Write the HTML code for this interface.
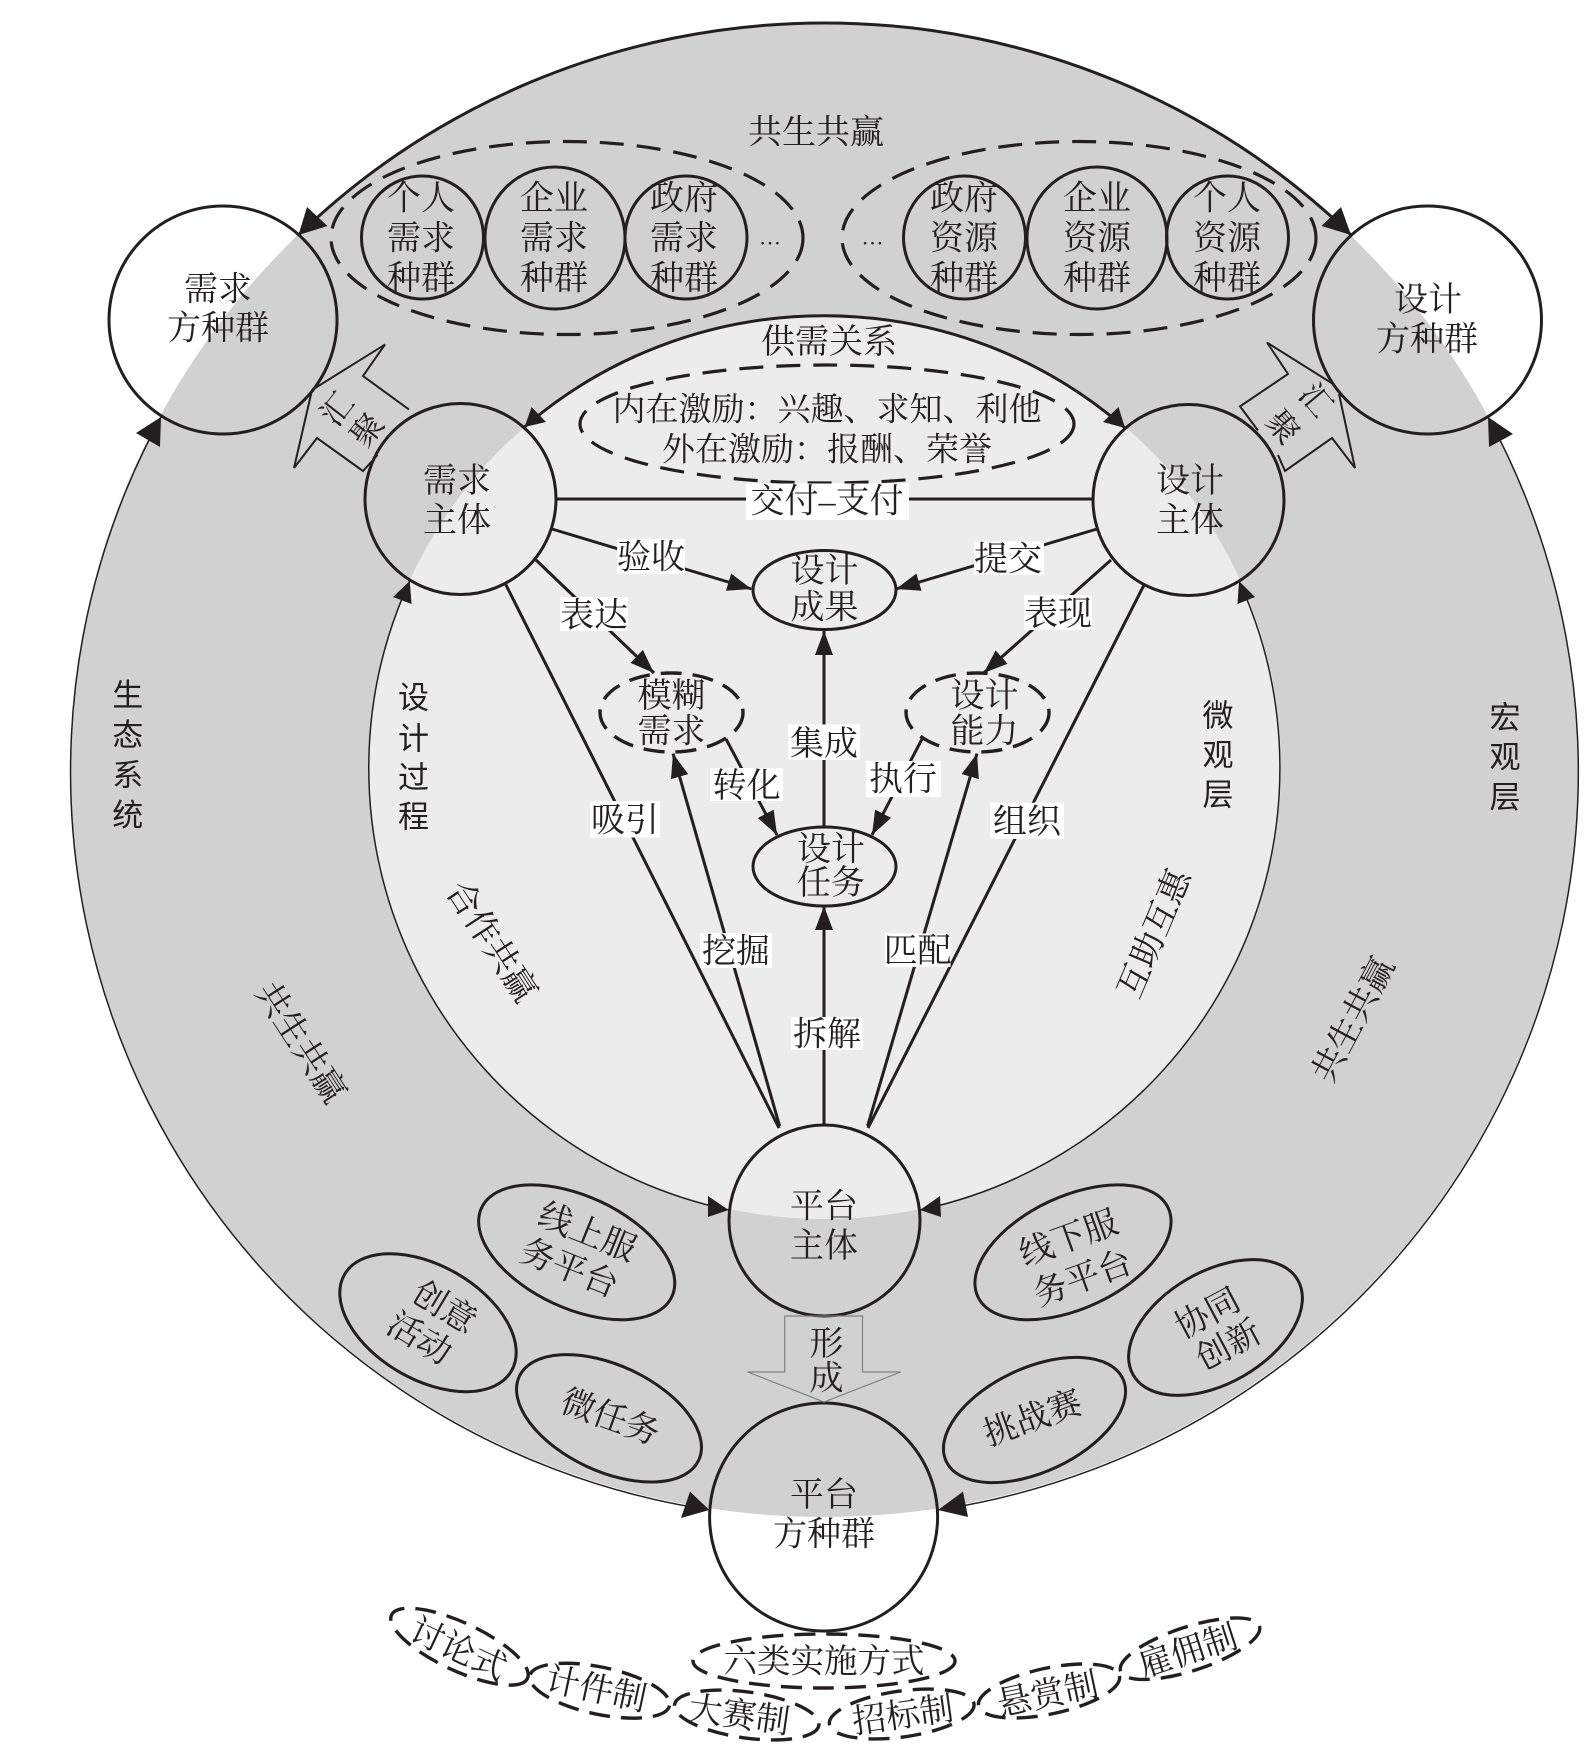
<!DOCTYPE html>
<html><head><meta charset="utf-8"><style>
html,body{margin:0;padding:0;background:#fff}
svg{display:block}
text{font-family:"Liberation Serif","Noto Serif CJK SC","Noto Sans CJK SC",serif;font-size:34px;fill:#231f20;text-anchor:middle;dominant-baseline:central}
.h{font-family:"Liberation Sans","Noto Sans CJK SC",sans-serif;font-size:31px}
.n{fill:none;stroke:#231f20;stroke-width:3}
.d{fill:none;stroke:#231f20;stroke-width:3.2;stroke-dasharray:24 13}
.d2{fill:none;stroke:#231f20;stroke-width:3.4;stroke-dasharray:21 11}
.l{stroke:#231f20;stroke-width:3;fill:none}
.a{marker-end:url(#m)}
.w{fill:#fff}
.k{fill:#231f20}
</style></head><body>
<svg xmlns="http://www.w3.org/2000/svg" width="1596" height="1751" viewBox="0 0 1596 1751">
<defs><marker id="m" markerUnits="userSpaceOnUse" markerWidth="24" markerHeight="20" refX="24" refY="10" orient="auto"><path d="M0 1L24 10L0 19z" fill="#231f20"/></marker></defs>
<rect width="1596" height="1751" fill="#fff"/>
<ellipse cx="824" cy="770" rx="754" ry="747" fill="#d1d1d1"/>
<ellipse cx="825" cy="767" rx="456" ry="452" fill="#ececec"/>

<!-- outer arcs -->
<path class="l" d="M298.5 235A754 747 0 0 1 1351 235"/>
<path d="M161 417A754 747 0 0 0 709.4 1510M938 1510A754 747 0 0 0 1488 417" fill="none" stroke="#231f20" stroke-width="1.5"/>
<polygon class="k" points="298.5,235 307,207 327.5,226"/>
<polygon class="k" points="1351,235 1341,207 1321.5,226"/>
<polygon class="k" points="161,417 136,433 160,447"/>
<polygon class="k" points="1488,417 1513,434 1489,447"/>
<polygon class="k" points="709.4,1510 690,1491.6 681,1518"/>
<polygon class="k" points="938,1510 963,1491.6 968,1517"/>

<!-- inner arcs -->
<path class="l" d="M524.5 427A456 452 0 0 1 1125 428"/>
<path d="M409.7 581A456 452 0 0 0 728.6 1210M920 1210A456 452 0 0 0 1239 581" fill="none" stroke="#231f20" stroke-width="1.5"/>
<polygon class="k" points="524.5,427 531.6,407 546,422"/>
<polygon class="k" points="1125,428 1118.5,407 1103,422"/>
<polygon class="k" points="409.7,581 393,597 411.6,604"/>
<polygon class="k" points="1239,581 1255,597 1237.5,604"/>
<polygon class="k" points="728.6,1210 708,1196 708,1217"/>
<polygon class="k" points="920,1210 940,1196 941,1217"/>

<!-- converge arrows -->
<path fill="none" stroke="#231f20" stroke-width="2" d="M312 390L385 344.5L363 376L409 409.5M377.5 455L363 471L317 438L294 468L312 390"/>
<path fill="none" stroke="#231f20" stroke-width="2" d="M1334 384.6L1267 342.5L1288 374L1240 406.4L1258 430.5M1278 455L1285 471L1332 438L1355 468L1339 394"/>
<text style="font-size:32px" transform="translate(337 409) rotate(-52)">汇</text>
<text style="font-size:32px" transform="translate(367 430) rotate(-52)">聚</text>
<text style="font-size:32px" transform="translate(1316 400) rotate(50)">汇</text>
<text style="font-size:32px" transform="translate(1283 427) rotate(50)">聚</text>

<!-- top dashed groups -->
<ellipse class="d" cx="567" cy="238" rx="236" ry="96.5"/>
<ellipse class="d" cx="1079" cy="238" rx="237" ry="96.5"/>
<ellipse class="n" cx="422.5" cy="237.5" rx="61" ry="61.5"/>
<ellipse class="n" cx="555" cy="238" rx="70" ry="71"/>
<ellipse class="n" cx="686" cy="237.5" rx="61" ry="61.5"/>
<ellipse class="n" cx="964.5" cy="237.5" rx="61" ry="61.5"/>
<ellipse class="n" cx="1097" cy="238" rx="70" ry="71"/>
<ellipse class="n" cx="1227.5" cy="237.5" rx="61" ry="61.5"/>
<text x="816" y="133">共生共赢</text>
<text x="421" y="199">个人</text><text x="421" y="239">需求</text><text x="421" y="279">种群</text>
<text x="554" y="199">企业</text><text x="554" y="239">需求</text><text x="554" y="279">种群</text>
<text x="684" y="199">政府</text><text x="684" y="239">需求</text><text x="684" y="279">种群</text>
<text style="font-size:22px" x="770" y="237">…</text><text style="font-size:22px" x="872.5" y="237">…</text>
<text x="964" y="199">政府</text><text x="964" y="239">资源</text><text x="964" y="279">种群</text>
<text x="1097" y="199">企业</text><text x="1097" y="239">资源</text><text x="1097" y="279">种群</text>
<text x="1227" y="199">个人</text><text x="1227" y="239">资源</text><text x="1227" y="279">种群</text>

<!-- incentive -->
<text x="829" y="342.5">供需关系</text>
<ellipse class="d" cx="827" cy="424" rx="247" ry="59"/>
<text style="font-size:33px" x="827" y="410.5">内在激励：兴趣、求知、利他</text>
<text style="font-size:33px" x="827" y="450.5">外在激励：报酬、荣誉</text>

<!-- population and subject nodes -->
<circle class="n" cx="223" cy="320" r="114"/>
<circle class="n" cx="1427.5" cy="320" r="114"/>
<circle class="n" cx="823.6" cy="1517" r="114"/>
<circle class="n" cx="460.5" cy="499" r="95.5"/>
<circle class="n" cx="1188.5" cy="500" r="95.5"/>
<circle class="n" cx="824.5" cy="1220.5" r="95.5"/>
<text x="218" y="290">需求</text><text x="218" y="329">方种群</text>
<text x="1428" y="300.5">设计</text><text x="1427" y="340">方种群</text>
<text x="457" y="481.5">需求</text><text x="457" y="521">主体</text>
<text x="1190" y="481.5">设计</text><text x="1190" y="521">主体</text>
<text x="824" y="1207">平台</text><text x="824" y="1246.5">主体</text>
<text x="824" y="1495.5">平台</text><text x="824" y="1535">方种群</text>

<!-- connectors -->
<line class="l" x1="556" y1="499" x2="1093" y2="499"/>
<line class="l a" x1="552" y1="529" x2="751.5" y2="589"/>
<line class="l a" x1="1097" y1="529" x2="896" y2="589"/>
<line class="l a" x1="536" y1="560" x2="654" y2="673"/>
<line class="l a" x1="1111" y1="560" x2="983.7" y2="673"/>
<line class="l" x1="505" y1="583" x2="779" y2="1128"/>
<line class="l" x1="1144" y1="585" x2="868" y2="1128"/>
<line class="l a" x1="779.6" y1="1126" x2="673" y2="753.6"/>
<line class="l a" x1="867.6" y1="1126" x2="977" y2="753.6"/>
<line class="l a" x1="824" y1="827" x2="824" y2="631"/>
<line class="l a" x1="824" y1="1125" x2="824" y2="906"/>
<line class="l a" x1="726" y1="739" x2="777" y2="835"/>
<line class="l a" x1="922" y1="739" x2="872" y2="835"/>

<!-- inner ellipses -->
<ellipse class="n" cx="824.5" cy="590" rx="71.5" ry="39.5"/>
<ellipse class="n" cx="824.5" cy="866.5" rx="71.5" ry="39.5"/>
<ellipse class="d2" cx="671.5" cy="712.5" rx="71.5" ry="39.5"/>
<ellipse class="d2" cx="977.5" cy="712.5" rx="71.5" ry="39.5"/>
<text x="824.5" y="571.5">设计</text><text x="824.5" y="608">成果</text>
<text x="831" y="850">设计</text><text x="831" y="883.5">任务</text>
<text x="671.5" y="696.4">模糊</text><text x="671.5" y="732">需求</text>
<text x="984.5" y="696.4">设计</text><text x="984.5" y="732">能力</text>

<!-- edge labels -->
<rect class="w" x="746" y="483.5" width="163" height="36.5"/><text x="827" y="502">交付–支付</text>
<rect class="w" x="617" y="539" width="68" height="35"/><text x="651" y="558">验收</text>
<rect class="w" x="974" y="541.5" width="70" height="33.5"/><text x="1008" y="560">提交</text>
<rect class="w" x="560" y="597" width="68" height="34"/><text x="594" y="616">表达</text>
<rect class="w" x="1024" y="595" width="68" height="35"/><text x="1058" y="614.5">表现</text>
<rect class="w" x="788" y="724.5" width="72" height="35.5"/><text x="824" y="744.5">集成</text>
<rect class="w" x="710" y="768" width="73" height="33"/><text x="746.6" y="786.5">转化</text>
<rect class="w" x="866" y="761" width="75" height="36"/><text x="903" y="780">执行</text>
<rect class="w" x="590" y="801" width="70" height="36.5"/><text x="625" y="821">吸引</text>
<rect class="w" x="990" y="802.7" width="74" height="36.3"/><text x="1027" y="822.5">组织</text>
<rect class="w" x="700" y="933" width="72" height="35"/><text x="736" y="952">挖掘</text>
<rect class="w" x="885" y="933.5" width="65.5" height="33.5"/><text x="917.5" y="951.5">匹配</text>
<rect class="w" x="791" y="1017" width="71.5" height="33"/><text x="827" y="1035">拆解</text>

<!-- side labels -->
<text class="h" x="127.7" y="695.5">生</text><text class="h" x="127.7" y="735.5">态</text><text class="h" x="127.7" y="775.5">系</text><text class="h" x="127.7" y="815.5">统</text>
<text class="h" x="1505" y="718">宏</text><text class="h" x="1505" y="757.5">观</text><text class="h" x="1505" y="797.5">层</text>
<text class="h" x="413.5" y="698">设</text><text class="h" x="413.5" y="739">计</text><text class="h" x="413.5" y="778">过</text><text class="h" x="413.5" y="817">程</text>
<text class="h" x="1218" y="716">微</text><text class="h" x="1218" y="755.5">观</text><text class="h" x="1218" y="795">层</text>

<text transform="translate(491 942) rotate(57)">合作共赢</text>
<text transform="translate(1155 934) rotate(-67)">互助互惠</text>
<text transform="translate(300 1043) rotate(57)">共生共赢</text>
<text transform="translate(1354 1020) rotate(-62)">共生共赢</text>

<!-- platform ellipses -->
<ellipse class="n" transform="translate(576.7 1252.3) rotate(25)" rx="105" ry="56"/>
<ellipse class="n" transform="translate(428 1322.7) rotate(30)" rx="96.4" ry="57"/>
<ellipse class="n" transform="translate(609 1418.3) rotate(25)" rx="99" ry="53"/>
<ellipse class="n" transform="translate(1073 1252.3) rotate(-25)" rx="105" ry="56"/>
<ellipse class="n" transform="translate(1215.5 1327.5) rotate(-30)" rx="95" ry="56"/>
<ellipse class="n" transform="translate(1034.5 1420) rotate(-25)" rx="97.5" ry="52"/>
<text transform="translate(587 1233) rotate(22)">线上服</text>
<text transform="translate(569 1269) rotate(22)">务平台</text>
<text transform="translate(444 1308) rotate(31)">创意</text>
<text transform="translate(419 1339) rotate(31)">活动</text>
<text transform="translate(610 1418) rotate(20)">微任务</text>
<text transform="translate(1069 1239) rotate(-20)">线下服</text>
<text transform="translate(1083 1279) rotate(-20)">务平台</text>
<text transform="translate(1208 1314) rotate(-28)">协同</text>
<text transform="translate(1229 1346) rotate(-28)">创新</text>
<text transform="translate(1033 1419) rotate(-20)">挑战赛</text>

<!-- form arrow -->
<path fill="none" stroke="#808080" stroke-width="1.2" d="M784.7 1316H862.5V1372H900.8L824 1402L747.7 1372H784.7Z"/>
<text x="826.5" y="1344.5">形</text><text x="826.5" y="1379">成</text>

<!-- implementation ellipses -->
<ellipse class="d2" transform="translate(459.5 1646.7) rotate(25)" rx="75" ry="24"/>
<ellipse class="d2" transform="translate(599.7 1690.7) rotate(12)" rx="71.4" ry="23.6"/>
<ellipse class="d2" transform="translate(746.7 1715) rotate(8)" rx="72.9" ry="23"/>
<ellipse class="d2" cx="824" cy="1661" rx="131" ry="27"/>
<ellipse class="d2" transform="translate(901.7 1714) rotate(-8)" rx="73" ry="23"/>
<ellipse class="d2" transform="translate(1049 1691) rotate(-12)" rx="72" ry="23"/>
<ellipse class="d2" transform="translate(1190 1648.7) rotate(-18)" rx="73" ry="22"/>
<text transform="translate(458 1650) rotate(25)">讨论式</text>
<text transform="translate(596 1690) rotate(12)">计件制</text>
<text transform="translate(739 1716) rotate(8)">大赛制</text>
<text style="font-size:33.5px" x="824" y="1662">六类实施方式</text>
<text transform="translate(903 1716) rotate(-8)">招标制</text>
<text transform="translate(1048 1695) rotate(-12)">悬赏制</text>
<text transform="translate(1188 1652) rotate(-18)">雇佣制</text>
</svg>
</body></html>
